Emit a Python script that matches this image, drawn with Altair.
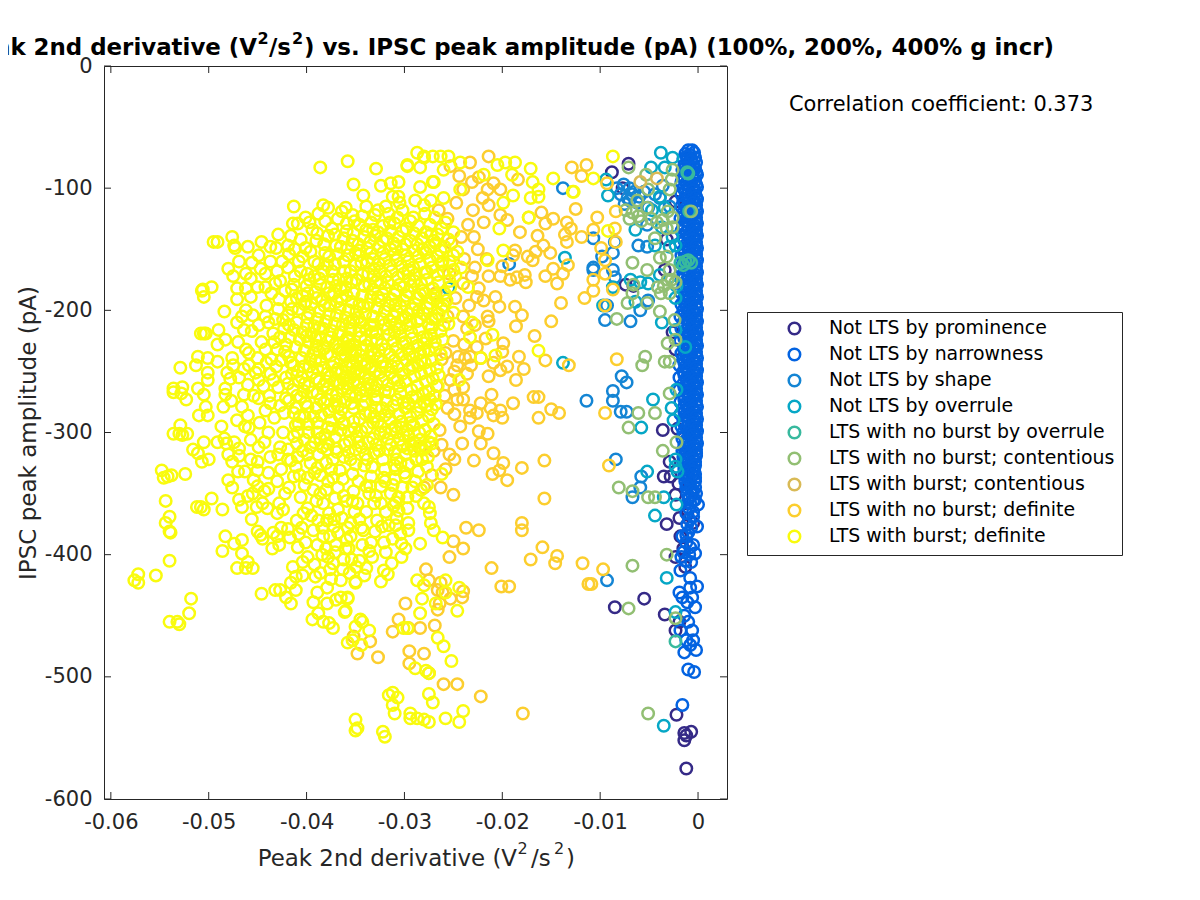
import altair as alt
import pandas as pd

# x values are in units of 1e-3 V^2/s^2, y values in pA
prominence = [(-7.1,-80),(-8.8,-87),(-7.7,-100),(-7.4,-179),(-6.6,-180),(-2.3,-111),(-3.2,-142),(-3.4,-167),(-2.6,-218),(-2.3,-232),
 (-3.6,-298),(-2.1,-297),(-2.9,-324),(-3.5,-336),(-2.8,-336),(-2,-342),(-2.3,-351),(-3.2,-375),(-1.9,-370),(-1.1,-367),(-0.5,-374),
 (-2.3,-402),(-1.5,-395),(-5.5,-436),(-8.5,-443),(-3.4,-449),(-2.3,-462),(-2.2,-531),(-1.4,-546),(-1.4,-552),(-1.2,-548),(-1.2,-575),(-0.7,-545),
 (-1.8,-385),(-1.3,-410),(-1.9,-455)]

narrowness = [(-1.0,-69),(-0.6,-69),(-1.3,-72),(-0.8,-73),(-0.4,-71),(-1.5,-76),(-1.1,-77),(-0.7,-76),(-0.3,-75),(-1.4,-81),(-0.9,-81),(-0.5,-80),(-0.2,-79),
 (-1.6,-85),(-1.2,-86),(-0.7,-85),(-0.3,-84),(-1.5,-90),(-1.0,-91),(-0.5,-90),(-0.1,-89),(-1.7,-95),(-1.2,-96),(-0.7,-95),(-0.3,-94),(-1.5,-100),(-1.0,-101),(-0.5,-100),(-0.1,-99),
 (-1.7,-105),(-1.2,-106),(-0.7,-105),(-0.3,-104),(-1.5,-110),(-0.9,-111),(-0.4,-110),(-0.1,-109),(-1.7,-115),(-1.2,-116),(-0.7,-115),(-0.2,-114),(-1.5,-120),(-1.0,-121),(-0.5,-120),(-0.1,-119),
 (-1.8,-125),(-1.3,-126),(-0.7,-125),(-0.2,-124),(-1.5,-130),(-1.0,-131),(-0.4,-130),(-0.1,-129),(-1.7,-135),(-1.2,-136),(-0.6,-135),(-0.2,-134),(-1.5,-140),(-0.9,-141),(-0.4,-140),(-0.1,-139),
 (-1.8,-145),(-1.2,-146),(-0.7,-145),(-0.2,-144),(-1.4,-150),(-0.9,-151),(-0.4,-150),(-0.1,-149),(-1.7,-155),(-1.2,-156),(-0.7,-155),(-0.2,-154),(-1.5,-160),(-1.0,-161),(-0.5,-160),(-0.1,-159),
 (-1.8,-165),(-1.3,-166),(-0.7,-165),(-0.2,-164),(-1.5,-170),(-1.0,-171),(-0.4,-170),(-0.1,-169),(-1.7,-175),(-1.2,-176),(-0.6,-175),(-0.2,-174),(-1.5,-180),(-0.9,-181),(-0.4,-180),(-0.1,-179),
 (-1.8,-185),(-1.2,-186),(-0.7,-185),(-0.2,-184),(-1.4,-190),(-0.9,-191),(-0.4,-190),(-0.1,-189),(-1.7,-195),(-1.2,-196),(-0.7,-195),(-0.2,-194),(-1.5,-200),(-1.0,-201),(-0.5,-200),(-0.1,-199),
 (-1.8,-205),(-1.3,-206),(-0.7,-205),(-0.2,-204),(-1.5,-210),(-1.0,-211),(-0.4,-210),(-0.1,-209),(-1.7,-215),(-1.2,-216),(-0.6,-215),(-0.2,-214),(-1.5,-220),(-0.9,-221),(-0.4,-220),(-0.1,-219),
 (-1.8,-225),(-1.2,-226),(-0.7,-225),(-0.2,-224),(-1.4,-230),(-0.9,-231),(-0.4,-230),(-0.1,-229),(-1.7,-235),(-1.2,-236),(-0.7,-235),(-0.2,-234),(-1.5,-240),(-1.0,-241),(-0.5,-240),(-0.1,-239),
 (-1.9,-245),(-1.3,-246),(-0.7,-245),(-0.2,-244),(-1.5,-250),(-1.0,-251),(-0.4,-250),(-0.1,-249),(-1.9,-255),(-1.2,-256),(-0.6,-255),(-0.2,-254),(-1.5,-260),(-0.9,-261),(-0.4,-260),(-0.1,-259),
 (-1.9,-265),(-1.2,-266),(-0.7,-265),(-0.2,-264),(-1.4,-270),(-0.9,-271),(-0.4,-270),(-0.1,-269),(-1.8,-275),(-1.2,-276),(-0.7,-275),(-0.2,-274),(-1.5,-280),(-1.0,-281),(-0.5,-280),(-0.1,-279),
 (-1.8,-285),(-1.3,-286),(-0.7,-285),(-0.2,-284),(-1.5,-290),(-1.0,-291),(-0.4,-290),(-0.1,-289),(-1.7,-295),(-1.2,-296),(-0.6,-295),(-0.2,-294),(-1.5,-300),(-0.9,-301),(-0.4,-300),(-0.1,-299),
 (-1.6,-305),(-1.2,-306),(-0.7,-305),(-0.2,-304),(-1.4,-310),(-0.9,-311),(-0.4,-310),(-0.1,-309),(-1.6,-315),(-1.2,-316),(-0.7,-315),(-0.2,-314),(-1.5,-320),(-1.0,-321),(-0.5,-320),(-0.2,-319),
 (-1.5,-325),(-1.1,-326),(-0.7,-325),(-0.3,-324),(-1.4,-330),(-0.9,-331),(-0.4,-330),(-1.4,-335),(-1.0,-336),(-0.6,-335),(-0.3,-334),(-1.3,-340),(-0.8,-341),(-0.3,-340),(-1.2,-345),(-0.7,-346),(-0.3,-345),
 (-1.1,-350),(-0.6,-351),(-0.2,-350),(-1.0,-355),(-0.5,-356),(0,-359),(-0.9,-362),(-0.5,-365),(-0.5,-369),(-0.1,-377),(-1.6,-385),(-1.0,-382),(-1.1,-375),(-0.5,-392),(-1.5,-398),(-0.3,-399),(-1.2,-390),
 (-0.7,-406),(-1.8,-413),(-0.8,-419),(-0.1,-426),(-1.9,-431),(-0.8,-427),(-1.6,-435),(-0.6,-435),(-1.1,-439),(-0.3,-443),(-1.3,-405),(-1.7,-402),(-0.9,-400),
 (-1,-455),(-0.6,-462),(-1.8,-462),(-1.4,-450),(-0.8,-474),(-0.5,-470),(-0.2,-478),(-1.4,-480),(-1,-494),(-0.4,-496),(-1.6,-523),(-1.2,-470),
 (-1.1,-74),(-0.7,-78),(-1.3,-83),(-0.4,-83),(-1.0,-88),(-0.2,-87),(-1.4,-93),(-0.5,-92),(-0.9,-98),(-0.2,-97),(-1.3,-103),(-0.5,-102),(-1.0,-108),(-0.2,-107),(-1.4,-113),(-0.5,-112),(-0.9,-118),(-0.2,-117),
 (-1.4,-123),(-0.5,-122),(-1.0,-128),(-0.2,-127),(-1.4,-133),(-0.5,-132),(-0.9,-138),(-0.2,-137),(-1.4,-143),(-0.5,-142),(-1.0,-148),(-0.2,-147),(-1.4,-153),(-0.5,-152),(-0.9,-158),(-0.2,-157),
 (-1.4,-163),(-0.5,-162),(-1.0,-168),(-0.2,-167),(-1.4,-173),(-0.5,-172),(-0.9,-178),(-0.2,-177),(-1.4,-183),(-0.5,-182),(-1.0,-188),(-0.2,-187),(-1.4,-193),(-0.5,-192),(-0.9,-198),(-0.2,-197),
 (-1.4,-203),(-0.5,-202),(-1.0,-208),(-0.2,-207),(-1.4,-213),(-0.5,-212),(-0.9,-218),(-0.2,-217),(-1.4,-223),(-0.5,-222),(-1.0,-228),(-0.2,-227),(-1.4,-233),(-0.5,-232),(-0.9,-238),(-0.2,-237),
 (-1.4,-243),(-0.5,-242),(-1.0,-248),(-0.2,-247),(-1.4,-253),(-0.5,-252),(-0.9,-258),(-0.2,-257),(-1.4,-263),(-0.5,-262),(-1.0,-268),(-0.2,-267),(-1.4,-273),(-0.5,-272),(-0.9,-278),(-0.2,-277),
 (-1.4,-283),(-0.5,-282),(-1.0,-288),(-0.2,-287),(-1.4,-293),(-0.5,-292),(-0.9,-298),(-0.2,-297),(-1.4,-303),(-0.5,-302),(-1.0,-308),(-0.2,-307),(-1.4,-313),(-0.5,-312),(-0.9,-318),(-0.2,-317),
 (-1.3,-323),(-0.5,-322),(-0.9,-328),(-0.3,-327),(-1.2,-333),(-0.5,-332),(-1.0,-338),(-0.3,-337),(-1.1,-343),(-0.5,-348),(-0.9,-353),(-0.3,-355),(-0.8,-358),(-1.2,-366),(-0.9,-371),(-0.7,-378),(-1.2,-384),(-0.8,-394)]

shape = [(-13.8,-100),(-7.6,-97),(-7,-100),(-6.5,-103),(-6,-107),(-7,-110),(-6.2,-112),(-7.5,-113),(-6.7,-105),(-7.9,-105),(-5.5,-103),(-7.2,-108),(-8.3,-100),
 (-10.7,-141),(-9.8,-156),(-8.7,-153),(-8.5,-144),(-10.7,-167),(-8.7,-167),(-8.5,-173),(-9.3,-196),(-9.5,-208),(-6.9,-209),(-5.9,-200),(-5.1,-192),(-5.2,-148),(-6.1,-147),(-5.2,-130),(-5.1,-116),(-3.9,-108),(-4.4,-105),
 (-10.7,-165),(-19.3,-162),(-7.8,-254),(-7.3,-259),(-8.7,-266),(-8.7,-274),(-11.4,-274),(-7.9,-283),(-7.3,-283),(-5.8,-336),(-5.9,-345),(-6.7,-353),(-8.4,-322),(-9.3,-421),(-2.9,-115),(-3.6,-98)]

overrule = [(-3.8,-71),(-2.6,-75),(-4.8,-83),(-3.4,-83),(-9.4,-93),(-9.2,-106),(-6.4,-134),(-4.4,-147),(-2.6,-140),(-2.9,-148),(-13.6,-157),(-8.7,-181),(-6.9,-175),(-5.9,-177),(-5.1,-178),(-3.9,-171),(-2.3,-190),(-2.2,-180),(-6.4,-193),(-9.7,-196),
 (-3.7,-210),(-2.3,-216),(-1.3,-230),(-13.8,-243),(-3.9,-107),(-4.7,-118),(-3.4,-116),(-3.7,-132),(-2.3,-147),(-25.5,-182),(-5.8,-296),(-4.6,-273),(-5.2,-332),(-3.5,-353),(-4.4,-368),(-3.2,-419),(-2.2,-265),(-2.3,-322),(-2.3,-328),(-2.1,-332),(-2.2,-359),(-2.3,-447),(-3.5,-540),(-2.5,-290),(-2.7,-280)]

nb_overrule = [(-1,-88),(-1.1,-87),(-1.3,-160),(-1.8,-161),(-1,-159),(-0.7,-161),(-1.5,-163),(-2.3,-471),(-0.9,-119)]

nb_contentious = [(-7.1,-83),(-5.3,-89),(-5.1,-101),(-2.6,-85),(-2.7,-93),(-2.9,-101),(-6.2,-110),(-7.4,-118),(-6.7,-120),(-6.1,-123),(-5.2,-116),(-4.2,-128),(-3.1,-119),(-2.6,-124),(-2.6,-132),(-0.7,-119),(-4.4,-141),(-6.7,-161),(-5.2,-167),(-3.9,-157),(-3.2,-156),(-2.9,-167),(-2.3,-177),(-3.1,-175),(-4.1,-181),(-6.6,-179),(-6.7,-186),(-7.2,-194),(-5.2,-194),(-3.8,-186),(-3.9,-201),(-2.4,-208),(-8.3,-207),(-3.1,-227),(-2.3,-224),(-5.4,-238),(-5.7,-245),(-3.4,-242),(-2.9,-242),
 (-4.8,-125),(-3.6,-126),(-5.8,-127),(-7,-125),(-2.9,-186),(-3.5,-180),(-2.7,-175),(-3.2,-133),
 (-6.1,-284),(-4.4,-284),(-7.1,-296),(-2.9,-268),(-3.6,-315),(-2.2,-308),(-8.1,-345),(-6.7,-348),(-5.1,-353),(-4.4,-353),(-3.2,-400),(-6.7,-409),(-7.1,-444),(-2.3,-452),(-5.1,-530)]

b_contentious = [(-5.9,-95),(-4.2,-92)]

nb_definite = [(-21.1,-269),(-24,-273),(-24.6,-273),(-22.2,-276),(-18.9,-276),(-16.8,-271),(-16.3,-271),(-15,-281),(-14.2,-284),(-16.3,-288),(-23.3,-282),(-22.6,-284),(-21.2,-280),(-20.9,-286),(-20.2,-282),(-20,-288),(-23.3,-288),(-22.4,-299),(-21.5,-301),(-24.3,-295),(-24.1,-309),(-22.2,-309),(-20.9,-317),(-22.9,-323),(-19.9,-325),(-21,-334),(-20.3,-331),(-19.5,-339),(-18,-329),(-15.7,-323),(-15.7,-354),(-25,-351),(-28,-345),(-28.4,-313),
 (-23.7,-378),(-22.4,-380),(-18,-374),(-18,-380),(-25,-389),(-24,-395),(-25.4,-402),(-15.9,-394),(-17.1,-404),(-14.4,-401),(-14.6,-407),(-11.8,-407),(-11.2,-424),(-21.1,-411),(-20.1,-426),(-19.3,-426),
 (-27.8,-412),(-27.5,-421),(-26.6,-429),(-26.3,-423),(-26.1,-431),(-25.3,-436),(-24.1,-435),(-24,-430),(-26.6,-445),(-26.4,-440),(-29.9,-440),(-30.6,-453),(-31.2,-463),(-29.6,-460),(-28.4,-460),(-26.9,-458),(-33.5,-471),(-34.8,-481),(-35.2,-467),(-32.7,-484),(-29.5,-479),(-28,-481),(-29.5,-489),(-27.5,-497),(-26,-506),(-24.6,-506),(-22.2,-516),(-17.9,-530),
 (-12.9,-83),(-11.4,-81),(-11.9,-90),(-21.4,-74),(-23.3,-79),(-12.5,-117),(-10.3,-124),(-16,-120),(-14.8,-125),(-15.6,-129),(-13.4,-128),(-13,-133),(-13.6,-138),(-11.9,-140),(-10.7,-134),(-18.2,-136),(-16.4,-139),(-15.8,-147),(-15.1,-153),(-16.6,-152),(-17.4,-156),(-16.9,-159),(-18.7,-151),(-18.9,-155),(-20,-164),(-19.2,-175),(-18.5,-173),(-17.7,-171),(-17.6,-177),(-20.2,-172),(-15.6,-172),(-14.8,-166),(-13.8,-170),(-14.4,-178),(-13.3,-163),(-10.7,-175),(-10.7,-184),(-11.6,-190),(-14,-194),(-15,-209),(-20.7,-189),(-20.3,-197),(-18.7,-197),(-18,-204),(-18.6,-213),(-21.5,-205),(-21.4,-209),(-16.7,-221),(-15.6,-241),(-13.2,-245),(-18.3,-238),(-17.8,-248),(-18.6,-257),(-21.4,-254),(-19.9,-227),(-20,-234),(-19.5,-246),(-20.2,-249),(-20.9,-243),(-22.2,-239),(-23.3,-238),(-23.8,-239),(-24.6,-245),(-23.2,-245),(-24,-263),(-25.3,-257),
 (-22.4,-91),(-20.9,-96),(-24,-101),(-21.5,-101),(-20.2,-101),(-18.4,-93),(-21.4,-114),(-23,-118),(-19.5,-126),(-20.2,-122),(-22.8,-165),(-21.4,-172),(-22.6,-189),(-26.8,-186),(-21.7,-223),(-17.3,-124),(-26.5,-118),(-23.5,-130),(-25.2,-145),(-22.5,-150),(-23.9,-158),(-25.4,-170),(-24,-178),(-22.4,-182),(-24.8,-190),(-23.4,-196),(-25.6,-205),(-23.6,-215),(-25,-225),(-22.6,-230),(-26.2,-240),(-24.9,-250),(-26.7,-262),(-25.6,-280),(-26.4,-298),(-27,-315),(-25.8,-330),
 (-8.4,-119),(-9.3,-96),(-8.5,-133),(-8.4,-144),(-9.9,-149),(-9.5,-159),(-9.5,-170),(-8.7,-183),(-9.5,-196),(-8.3,-240),(-9.5,-284),(-9.1,-327),(-9.7,-412),(-10.9,-424),(-13.4,-144),
 (-25.3,-82),(-24.4,-90),(-23.1,-95),(-22,-108),(-24.7,-112),(-25.6,-125),(-24.2,-140),(-21.9,-128),(-22.9,-140),(-21.6,-158),(-23.1,-172),(-21.9,-192),(-24,-205),(-22.8,-212),(-23.9,-228),(-25.8,-235),(-24.5,-238),(-23.6,-252),(-24.9,-265),(-25.9,-270),(-24.9,-285),(-26.2,-310),(-25.4,-318),(-24.9,-322),(-26.3,-345),(-27.2,-335)]

b_definite = [(-57.6,-421),(-57.2,-416),(-57.2,-423),(-55.4,-417),(-54,-405),(-51.8,-436),(-52,-448),(-54,-455),(-53.2,-455),(-53,-457),(-54.4,-356),(-54,-369),(-54.4,-374),(-54,-381),(-53.9,-382),(-54.8,-331),(-54.6,-337),(-54.2,-336),(-53.8,-335),(-52.4,-334),
 (-52.9,-294),(-53.6,-301),(-53,-301),(-52.7,-302),(-52.2,-301),(-51.6,-314),(-51.1,-317),(-50.5,-308),(-50.7,-324),(-50,-322),(-51.2,-361),(-50.8,-361),(-50.5,-363),(-49.7,-354),(-48.6,-363),(-48,-339),(-47,-332),(-49.1,-308),(-48.4,-305),(-48.2,-309),(-47.4,-308),(-46.9,-313),(-48,-318),(-46.9,-319),(-47.6,-324),(-45.7,-322),(-45,-324),
 (-48.3,-385),(-48.6,-397),(-47.4,-391),(-46.6,-388),(-46.6,-399),(-47.1,-411),(-46,-406),(-46.2,-411),(-45.5,-411),(-46.9,-355),(-46.6,-361),(-46,-352),(-45.6,-371),(-45.5,-350),(-45,-344),(-45.4,-339),(-44.5,-358),(-44,-362),(-45.1,-361),(-43,-366),(-42.2,-350),
 (-45,-381),(-44.7,-384),(-44.5,-387),(-43.4,-382),(-43,-385),(-42.8,-392),(-43.5,-395),(-41.7,-386),(-40.9,-394),(-39.9,-402),(-38.4,-400),(-44.6,-432),(-43.2,-429),(-42.7,-429),(-42.1,-435),(-41.6,-440),(-41.1,-429),(-41.6,-423),(-41.4,-410),(-40.4,-417),(-41.1,-418),
 (-39.4,-453),(-38.3,-455),(-37.3,-460),(-37.7,-456),(-39.3,-439),(-38.8,-448),(-37.9,-440),(-37.9,-427),(-38.9,-431),(-39.1,-418),(-38.6,-415),(-37.3,-407),(-36.5,-421),(-36.5,-435),(-35.8,-435),(-37,-437),(-36.1,-447),(-35,-422),(-34.5,-453),
 (-35,-535),(-34.8,-542),(-35,-544),(-32.2,-545),(-32,-549),(-31.2,-513),(-31.6,-515),(-30.7,-517),(-31.2,-523),(-31,-530),(-29.4,-530),(-29.4,-534),(-28.7,-534),(-28,-535),(-27.5,-537),(-25.8,-534),(-24.4,-537),(-24,-528),(-27.5,-514),(-27.1,-521),
 (-25.2,-487),(-26,-475),(-26.6,-468),(-27.5,-497),(-27.8,-495),(-28.9,-493),(-24.6,-446),(-28.4,-448),(-28.2,-436),(-26.8,-440),(-25.8,-431),(-25.8,-421),(-28.7,-421),(-28,-425),(-24.4,-427),(-29.7,-460),(-30.1,-460),
 (-34.3,-455),(-35,-459),(-33.6,-462),(-34.4,-474),(-35.8,-472),(-35.3,-470),(-36,-446),(-35.8,-436),(-35,-423),(-32.4,-422),(-31.7,-416),(-32.1,-413),(-31.3,-407),(-30.3,-402),(-30.3,-391),(-28.4,-391),(-26.2,-334),
 (-27.3,-374),(-27,-380),(-26.1,-386),(-28,-358),(-27.5,-361),(-27.4,-366),(-29.2,-345),(-29.7,-353),(-30.6,-353),(-29.6,-374),(-30.8,-370),(-31.6,-376),(-30.9,-376),(-29.6,-380),
 (-35.8,-78),(-38.6,-83),(-32.9,-84),(-35.2,-97),(-34.2,-106),(-41.3,-115),(-38.3,-114),(-37.8,-116),(-36,-116),(-32.4,-98),(-31.4,-96),(-30.6,-95),(-31.2,-107),(-30.6,-107),(-29.7,-82),(-28.7,-71),(-28,-75),(-28.4,-99),(-27.1,-95),(-28.9,-110),(-27.3,-110),
 (-29.7,-81),(-28,-74),(-27.1,-74),(-26.3,-74),(-25.5,-74),(-28.4,-83),(-26,-85),(-24.3,-79),(-19.7,-79),(-18.7,-79),(-20.5,-81),(-17.1,-84),(-21.9,-89),(-19,-89),(-16.9,-95),(-27,-95),(-24.3,-101),(-26,-108),(-16.3,-101),(-17.1,-108),(-16.3,-107),(-18.9,-106),(-19.9,-112),(-14.8,-92),(-12.8,-103),(-10.7,-92),(-17.3,-124),(-20.3,-133),(-19.9,-151),(-21.5,-159),(-21,-220),(-20.7,-237),(-16.3,-233),(-22.2,-239),(-23.3,-222),(-24.4,-257),(-23.5,-181),(-23.1,-210),(-8.7,-74),(-12.7,-103),(-9.2,-135),
 (-41.4,-129),(-40.9,-129),(-47.6,-140),(-49.5,-144),(-49.1,-144),(-47.4,-147),(-47.3,-149),(-44.6,-144),(-45.6,-161),(-48,-166),(-43.7,-148),(-42.9,-138),(-43.7,-160),(-41.9,-165),(-49.7,-181),(-50.6,-183),(-50.7,-184),(-50.5,-189),(-47.1,-182),(-47.1,-191),(-48.4,-201),(-46.2,-200),(-45,-181),(-44.2,-181),(-45.7,-189),(-45.5,-204),(-47.1,-210),(-50.5,-219),(-50.8,-219),(-50.3,-219),(-49,-216),(-49.1,-228),(-48.3,-224),(-46.4,-216),(-47,-226),(-45.9,-235),(-51.1,-238),(-51.3,-245),(-50.1,-239),(-52.9,-247),(-49.1,-242),(-47.6,-239),(-50.1,-251),(-50.1,-257),(-45,-239),(-45.2,-251),(-53.6,-264),(-52.7,-263),(-51.1,-264),(-48.3,-264),(-46,-261),(-44.9,-257),(-43.4,-257),
 (-53.6,-267),(-52.3,-273),(-52.8,-268),(-51,-286),(-50.1,-286),(-50.3,-279),(-48.5,-279),(-48.3,-269),(-50.5,-269),(-46.4,-269),(-46,-286),(-44.8,-292),(-44.2,-282),(-43.7,-276),(-45.7,-306),(-43.9,-300),(-42.7,-312),(-43.7,-320),(-41.9,-322),(-43.9,-333),(-41.3,-336),(-43,-340),(-39.9,-337),(-38.6,-335),(-39.3,-347),(-40.6,-353),(-40.3,-366),(-38.3,-358),(-36.8,-363),(-39.3,-380),(-38.3,-385),(-37.2,-377),(-35.5,-374),(-35.5,-385),(-37.8,-402),(-36.2,-404),(-34.8,-358),(-39.6,-312),(-37.9,-314),(-35.5,-322),(-40.9,-300),(-38.9,-292),(-36.2,-292),(-42.3,-284),(-39.9,-279),(-36.8,-279),(-40.9,-320),(-39.6,-325),
 (-46.4,-248),(-44.1,-243),(-43,-232),(-44.6,-226),(-46.2,-232),(-43.4,-219),(-44.9,-212),(-43.2,-207),(-44.1,-196),(-42.8,-191),(-44.2,-170),(-42.7,-176),(-41.5,-183),(-43.1,-149),(-41.8,-154),(-40.6,-142),(-39.4,-134),(-38.1,-127),(-36.8,-125),(-35.3,-122),(-33.9,-115),(-32.7,-118),(-31.6,-121),(-30.2,-118),(-29.1,-124),(-27.9,-121),
 (-40.8,-160),(-39.6,-152),(-38.2,-146),(-37.1,-138),(-35.9,-135),(-34.6,-130),(-33.4,-128),(-32.2,-131),(-31,-129),(-29.8,-133),(-28.6,-131),(-27.4,-130),(-26.2,-133),(-25,-136),(-39.9,-170),(-38.8,-162),(-37.7,-156),(-36.5,-148),(-35.3,-143),(-34.1,-140),(-33,-139),(-31.8,-141),(-30.6,-140),(-29.4,-143),(-28.2,-141),(-27,-143),(-25.9,-148),(-24.6,-152),
 (-41.2,-172),(-40,-180),(-38.7,-174),(-37.4,-168),(-36.2,-160),(-35,-153),(-33.8,-149),(-32.6,-148),(-31.4,-150),(-30.2,-150),(-29,-151),(-27.8,-153),(-26.6,-156),(-25.4,-160),(-24.2,-165),(-41.6,-193),(-40.4,-188),(-39.1,-185),(-37.9,-181),(-36.7,-175),(-35.5,-168),(-34.4,-161),(-33.2,-158),(-32,-158),(-30.8,-159),(-29.6,-160),(-28.4,-162),(-27.2,-165),(-26,-168),(-24.8,-172),
 (-41.9,-204),(-40.8,-199),(-39.5,-195),(-38.4,-191),(-37.2,-186),(-36,-181),(-34.9,-175),(-33.7,-170),(-32.5,-168),(-31.3,-168),(-30.1,-170),(-28.9,-171),(-27.7,-175),(-26.5,-177),(-25.3,-181),(-42.3,-215),(-41,-210),(-39.9,-206),(-38.7,-201),(-37.6,-196),(-36.4,-191),(-35.2,-186),(-34.1,-180),(-32.9,-177),(-31.7,-177),(-30.5,-179),(-29.3,-180),(-28.1,-184),(-26.9,-188),(-25.7,-192),
 (-41.7,-222),(-40.4,-218),(-39.2,-213),(-38,-209),(-36.9,-204),(-35.7,-200),(-34.6,-195),(-33.4,-189),(-32.2,-187),(-31,-187),(-29.8,-188),(-28.6,-190),(-27.4,-194),(-26.2,-198),(-25,-202),(-42.2,-234),(-41.1,-230),(-39.8,-226),(-38.6,-222),(-37.4,-217),(-36.3,-212),(-35.2,-208),(-34,-203),(-32.8,-198),(-31.6,-196),(-30.4,-197),(-29.2,-199),(-28,-203),(-26.8,-207),(-25.5,-211),
 (-41.6,-243),(-40.5,-239),(-39.3,-235),(-38.2,-231),(-37,-227),(-35.8,-222),(-34.6,-217),(-33.5,-212),(-32.3,-207),(-31.1,-205),(-29.9,-206),(-28.7,-209),(-27.5,-212),(-26.3,-217),(-42.1,-255),(-40.9,-250),(-39.7,-246),(-38.6,-241),(-37.5,-237),(-36.3,-232),(-35.2,-228),(-34,-224),(-32.9,-218),(-31.7,-215),(-30.5,-215),(-29.3,-218),(-28.1,-222),(-26.9,-226),
 (-41.4,-265),(-40.2,-260),(-39,-256),(-37.9,-252),(-36.8,-248),(-35.6,-242),(-34.5,-237),(-33.4,-233),(-32.3,-228),(-31.1,-225),(-29.9,-226),(-28.7,-229),(-27.5,-233),(-26.3,-236),(-41.8,-274),(-40.6,-271),(-39.4,-267),(-38.3,-262),(-37.1,-258),(-36,-254),(-34.9,-248),(-33.8,-244),(-32.7,-239),(-31.5,-236),(-30.3,-236),(-29.1,-238),(-27.9,-243),(-26.7,-247),
 (-38.6,-273),(-37.4,-269),(-36.3,-264),(-35.2,-259),(-34.1,-255),(-33,-250),(-31.9,-246),(-30.7,-246),(-29.5,-248),(-28.3,-252),(-27.1,-256),(-40.2,-287),(-37.7,-283),(-35.6,-270),(-34.5,-265),(-33.4,-261),(-32.2,-257),(-31.1,-256),(-29.9,-258),(-28.7,-262),(-27.5,-266),
 (-41.1,-294),(-37.8,-296),(-36.6,-287),(-35.2,-280),(-34,-275),(-32.8,-271),(-31.6,-267),(-30.4,-268),(-29.2,-271),(-28,-275),(-26.8,-277),(-39.8,-300),(-38.6,-305),(-37.1,-304),(-35.7,-299),(-34.6,-289),(-33.5,-284),(-32.3,-280),(-31.1,-278),(-29.9,-280),(-28.7,-284),(-27.5,-287),
 (-41,-309),(-38.8,-318),(-37.3,-322),(-36.1,-310),(-34.9,-303),(-33.8,-296),(-32.7,-291),(-31.5,-289),(-30.3,-291),(-29.1,-294),(-27.9,-298),(-36.6,-331),(-35.3,-334),(-34.4,-312),(-33.2,-305),(-32,-300),(-30.8,-300),(-29.6,-303),(-28.4,-306),(-27.5,-308),(-33.8,-322),(-32.6,-315),(-31.4,-310),(-30.2,-311),(-29,-315),(-28.2,-322),(-33.4,-336),(-32,-330),(-30.8,-322),(-29.6,-326),(-28.6,-332),(-36.8,-345),(-35.2,-348),(-33.6,-350),(-32.4,-344),(-31,-338),(-29.9,-336),(-38,-347),(-37,-392),(-33.9,-365),(-32.4,-358),(-34.2,-380),(-32.8,-372),(-33.4,-390),(-36,-395),(-34.6,-405),(-33.3,-402)]

b_definite_dense = [(-40.1,-124),(-38.8,-121),(-37.4,-133),(-35.9,-129),(-34.3,-123),(-33,-122),(-31.9,-115),(-30.7,-124),(-29.4,-127),(-28,-114),(-26.9,-124),(-25.8,-128),
 (-41.6,-139),(-40.1,-149),(-39,-143),(-37.8,-139),(-36.2,-141),(-35.2,-137),(-33.9,-134),(-32.7,-136),(-31.4,-135),(-30.2,-135),(-29,-137),(-27.8,-136),(-26.6,-138),(-25.5,-142),
 (-43,-168),(-41.9,-147),(-40.6,-168),(-39.2,-160),(-38.1,-153),(-37,-147),(-35.8,-149),(-34.7,-146),(-33.5,-144),(-32.2,-143),(-31.1,-145),(-29.9,-146),(-28.7,-146),(-27.4,-148),(-26.3,-151),(-25,-155),
 (-42.2,-184),(-41.3,-179),(-39.7,-175),(-38.3,-168),(-37.1,-162),(-35.8,-155),(-34.6,-155),(-33.4,-153),(-32.2,-153),(-31,-154),(-29.8,-155),(-28.6,-156),(-27.4,-159),(-26.2,-162),(-25,-167),
 (-43.6,-186),(-41,-190),(-39.9,-186),(-38.6,-179),(-37.3,-175),(-36.1,-168),(-35,-163),(-33.8,-160),(-32.6,-162),(-31.5,-163),(-30.3,-164),(-29.1,-165),(-27.9,-169),(-26.6,-171),(-25.4,-176),
 (-43.9,-210),(-41.5,-199),(-40.2,-195),(-39,-190),(-37.7,-186),(-36.5,-183),(-35.4,-177),(-34.3,-171),(-33.1,-172),(-31.9,-172),(-30.7,-173),(-29.5,-175),(-28.3,-178),(-27.1,-182),(-25.9,-186),
 (-42.7,-222),(-41.3,-216),(-40,-212),(-38.9,-207),(-37.7,-203),(-36.6,-198),(-35.4,-193),(-34.3,-188),(-33.2,-183),(-32,-182),(-30.8,-184),(-29.6,-185),(-28.4,-187),(-27.2,-190),(-26,-196),
 (-43.6,-240),(-42.1,-228),(-40.7,-224),(-39.5,-219),(-38.3,-215),(-37.1,-211),(-36,-206),(-34.9,-201),(-33.7,-195),(-32.5,-192),(-31.3,-191),(-30.1,-192),(-28.9,-195),(-27.7,-198),(-26.5,-203),
 (-43.1,-246),(-41.8,-238),(-40.2,-233),(-39,-229),(-37.8,-225),(-36.7,-220),(-35.5,-215),(-34.4,-210),(-33.2,-205),(-32,-201),(-30.8,-201),(-29.6,-203),(-28.4,-207),(-27.2,-207),(-26,-212),
 (-42.9,-263),(-41.5,-252),(-40.3,-246),(-39.1,-241),(-37.9,-236),(-36.7,-232),(-35.6,-229),(-34.5,-222),(-33.3,-218),(-32.1,-212),(-30.9,-211),(-29.7,-212),(-28.5,-216),(-27.3,-220),(-26.1,-224),
 (-41.9,-260),(-40.5,-255),(-39.4,-251),(-38.3,-247),(-37.2,-243),(-36,-238),(-35,-233),(-33.9,-229),(-32.8,-224),(-31.6,-220),(-30.4,-221),(-29.2,-223),(-28,-227),(-26.8,-231),(-35.4,-236),(-34.9,-241),(-35.8,-231),(-36.2,-226),(-34.3,-232),(-33.6,-238),
 (-42.7,-278),(-41,-270),(-39.8,-262),(-38.7,-258),(-37.6,-254),(-36.4,-250),(-35.3,-246),(-34.2,-241),(-33.1,-236),(-32,-232),(-30.8,-231),(-29.6,-232),(-28.4,-235),(-27.2,-241),(-35.9,-246),(-34.7,-252),(-33.5,-248),
 (-41.3,-284),(-40.1,-276),(-38.9,-268),(-37.8,-264),(-36.6,-260),(-35.5,-255),(-34.4,-250),(-33.3,-246),(-32.2,-242),(-31,-241),(-29.8,-241),(-28.6,-245),(-27.4,-249),
 (-42.4,-300),(-40.7,-287),(-39,-280),(-37.9,-273),(-36.9,-268),(-35.8,-264),(-34.7,-259),(-33.6,-255),(-32.5,-251),(-31.4,-251),(-30.2,-252),(-29,-254),(-27.8,-258),(-26.6,-262),
 (-41.3,-303),(-39.8,-293),(-38.5,-286),(-37.2,-279),(-36.1,-275),(-35,-270),(-33.9,-265),(-32.8,-261),(-31.7,-261),(-30.5,-262),(-29.3,-265),(-28.1,-268),(-26.9,-270),
 (-41.9,-314),(-40.2,-306),(-38.9,-300),(-37.5,-290),(-36.4,-281),(-35.4,-276),(-34.3,-270),(-33.1,-266),(-32,-266),(-30.8,-273),(-29.6,-276),(-28.4,-279),(-27.2,-281),
 (-42.6,-330),(-40.4,-315),(-39.2,-308),(-37.8,-309),(-36.5,-298),(-35.2,-291),(-34,-285),(-32.9,-280),(-31.8,-274),(-30.6,-285),(-29.4,-287),(-28.2,-290),(-27,-293),
 (-41.1,-328),(-39.9,-318),(-38.4,-312),(-37,-313),(-35.6,-307),(-34.4,-299),(-33.2,-292),(-32,-286),(-30.9,-295),(-29.7,-298),(-28.5,-300),(-27.3,-303),
 (-40.2,-343),(-38.9,-329),(-37.5,-330),(-36.2,-320),(-35,-314),(-33.7,-308),(-32.5,-301),(-31.3,-298),(-30.1,-302),(-29,-308),(-27.8,-312),
 (-41.8,-345),(-39,-356),(-37.8,-340),(-36.3,-338),(-35,-326),(-34,-318),(-32.9,-310),(-31.7,-305),(-30.5,-306),(-29.3,-310),(-28.1,-314),
 (-42.4,-363),(-41,-372),(-39.9,-362),(-38.6,-350),(-37.1,-354),(-35.9,-356),(-34.7,-340),(-33.3,-328),(-32.2,-322),(-31,-316),(-29.9,-318),(-28.8,-322),(-27.7,-328),
 (-41.9,-379),(-40.5,-378),(-38.8,-372),(-37.7,-366),(-36.4,-370),(-35.1,-365),(-33.5,-344),(-32.1,-337),(-30.9,-330),(-30.2,-345),(-31.4,-350),(-28.9,-340),(-27.7,-343),
 (-40.1,-390),(-38.9,-392),(-37.6,-385),(-36.8,-382),(-35.8,-378),(-34.6,-371),(-33.1,-358),(-31.9,-365),(-31.1,-360),(-30.6,-364),(-29.7,-362),(-28.8,-352),
 (-39.2,-408),(-38,-395),(-37.1,-398),(-35.7,-395),(-34.3,-392),(-33,-381),(-32.1,-390),(-31.2,-387),(-29.9,-395),(-36.3,-412),(-34.9,-410),(-33.9,-411),(-35.6,-415),(-37.5,-420),
 (-46.2,-170),(-47.5,-172),(-46.9,-160),(-44.9,-155),(-46,-148),(-45.7,-174),(-44.7,-166),(-46.2,-182),(-44.2,-205),(-46.6,-205),(-45.6,-217),(-44.2,-232),(-47.5,-245),(-45.9,-245),(-44.9,-248),(-46.9,-255),(-44.4,-262),(-45.4,-270),(-47.7,-274),(-44.9,-272),(-45.9,-296),(-47.1,-290),(-48.7,-295),(-44.9,-312),(-46.3,-332),(-47.6,-345),(-44.3,-348),(-42.8,-358)]

b_definite_loose = [(-39.7,-128),(-36.4,-119),(-33.2,-134),(-30.5,-112),(-38.9,-137),(-35.1,-127),(-31.5,-128),(-27.3,-138),(-41.2,-150),(-37.9,-163),(-34.6,-151),(-30.9,-148),(-28.1,-150),(-40.4,-156),(-36.8,-154),(-33.1,-166),(-29.6,-167),(-26.8,-145),
 (-42.5,-160),(-39.2,-172),(-35.9,-174),(-32.4,-177),(-29,-176),(-26.1,-160),(-43.2,-178),(-40.1,-193),(-36.9,-193),(-33.6,-179),(-30.1,-181),(-27.7,-169),(-42.9,-199),(-39.7,-202),(-37,-180),(-34.2,-197),(-30.9,-195),(-27.9,-186),
 (-42.4,-208),(-38.2,-196),(-35.6,-210),(-32.7,-189),(-29.4,-209),(-26.6,-193),(-41.8,-212),(-38.7,-214),(-35.9,-188),(-33.1,-212),(-30.2,-207),(-27.2,-214),(-43.3,-226),(-40,-221),(-37.5,-222),(-34.7,-206),(-31.5,-209),(-28.6,-201),
 (-42.6,-241),(-39.1,-223),(-36.5,-218),(-33.9,-216),(-31,-218),(-28,-233),(-41.3,-245),(-38.7,-234),(-36.1,-236),(-33.4,-225),(-30.2,-227),(-27.7,-223),(-43.7,-252),(-40.8,-258),(-37.4,-246),(-35.7,-225),(-32.6,-233),(-29.5,-236),
 (-42.1,-272),(-39.6,-240),(-37,-251),(-34.1,-245),(-31.3,-246),(-28.3,-241),(-40.3,-266),(-38,-258),(-35.1,-252),(-32.3,-246),(-29.2,-245),(-26.5,-253),(-43.3,-288),(-41.1,-280),(-38.9,-248),(-36.2,-257),(-33.7,-260),(-30.7,-257),
 (-40.8,-293),(-38.2,-276),(-35.9,-260),(-33,-273),(-30.1,-275),(-27.4,-273),(-42.9,-318),(-39.3,-287),(-37,-274),(-34.3,-278),(-31.6,-283),(-28.8,-271),(-41.6,-323),(-38.1,-302),(-36.3,-293),(-33.1,-287),(-30.3,-296),(-27.7,-278),
 (-40.7,-335),(-37.4,-297),(-35.1,-297),(-32.4,-295),(-29.4,-292),(-27.2,-309),(-39.2,-333),(-36.9,-316),(-34.7,-308),(-31.7,-314),(-29.7,-313),(-30.4,-325),(-38,-325),(-35.7,-316),(-33.1,-317),(-31,-327),(-28.5,-311),(-27.6,-320),
 (-37.3,-337),(-34.1,-327),(-32,-340),(-30,-333),(-39.5,-368),(-36.2,-352),(-33.9,-344),(-31.2,-343),(-28.3,-347),(-37.9,-372),(-35.3,-356),(-32.9,-352),(-30.9,-357),(-40.8,-383),(-37.2,-371),(-34.4,-378),(-32.3,-377),(-30.4,-383),
 (-42.6,-378),(-38.4,-378),(-35.9,-388),(-33.6,-397),(-31.9,-398),(-40.4,-406),(-37.6,-412),(-35.4,-404),(-34.1,-417),(-43.9,-346),(-45,-331),(-47.8,-256),(-43.8,-270),(-46.6,-279),(-48.1,-251),(-46.3,-295),(-44.3,-308)]

names = ["Not LTS by prominence", "Not LTS by narrowness", "Not LTS by shape", "Not LTS by overrule",
         "LTS with no burst by overrule", "LTS with no burst; contentious", "LTS with burst; contentious",
         "LTS with no burst; definite", "LTS with burst; definite"]
colors = ["#352a87", "#0363e1", "#1485d4", "#06a7c6", "#38b99e", "#92bf73", "#d9ba56", "#fcce2e", "#f9fb0e"]
series = [prominence, narrowness, shape, overrule, nb_overrule, nb_contentious, b_contentious, nb_definite, b_definite + b_definite_dense + b_definite_loose]

rows = [{"x": p[0] / 1000, "y": p[1], "k": n} for n, s in zip(names, series) for p in s]
df = pd.DataFrame(rows)

W, H = 623, 733
TICK = 7
x_ticks = [-0.06, -0.05, -0.04, -0.03, -0.02, -0.01, 0]
y_ticks = [0, -100, -200, -300, -400, -500, -600]
FONT = "DejaVu Sans"
INK = "#262626"

xs = alt.Scale(domain=[-0.0607, 0.00296], nice=False, zero=False)
ys = alt.Scale(domain=[-600, 0], nice=False, zero=False)

points = alt.Chart(df).mark_point(filled=False, size=132, strokeWidth=2.5, opacity=1).encode(
    x=alt.X("x:Q", scale=xs, title=None,
            axis=alt.Axis(values=x_ticks, labelExpr="''+datum.value", grid=False, ticks=False, domain=False,
                          labelFontSize=21, labelColor=INK, labelPadding=12, labelFont=FONT)),
    y=alt.Y("y:Q", scale=ys, title="IPSC peak amplitude (pA)",
            axis=alt.Axis(values=y_ticks, labelExpr="''+datum.value", grid=False, ticks=False, domain=False,
                          labelFontSize=21, labelColor=INK, labelPadding=12, titleFontSize=23, titleColor=INK,
                          titleFontWeight="normal", titlePadding=4, labelFont=FONT, titleFont=FONT)),
    color=alt.Color("k:N", scale=alt.Scale(domain=names, range=colors), sort=names,
                    legend=alt.Legend(orient="none", legendX=643, legendY=246, title=None, strokeColor=INK,
                                      fillColor="white", padding=7, labelFontSize=18.9, labelFont=FONT, labelColor="black",
                                      labelLimit=500, labelOffset=25, symbolSize=132, symbolStrokeWidth=2.5,
                                      symbolType="circle", rowPadding=3, symbolOffset=31)),
)

xt = pd.DataFrame({"v": x_ticks})
yt = pd.DataFrame({"v": y_ticks})
tb = alt.Chart(xt).mark_rule(color=INK, strokeWidth=1).encode(x=alt.X("v:Q", scale=xs), y=alt.value(H), y2=alt.value(H - TICK))
tt = alt.Chart(xt).mark_rule(color=INK, strokeWidth=1).encode(x=alt.X("v:Q", scale=xs), y=alt.value(0), y2=alt.value(TICK))
tl = alt.Chart(yt).mark_rule(color=INK, strokeWidth=1).encode(y=alt.Y("v:Q", scale=ys), x=alt.value(0), x2=alt.value(TICK))
tr = alt.Chart(yt).mark_rule(color=INK, strokeWidth=1).encode(y=alt.Y("v:Q", scale=ys), x=alt.value(W), x2=alt.value(W - TICK))


def label(text, x, y, size, align="left", weight="normal", color=INK):
    return alt.Chart(pd.DataFrame({"t": [text]})).mark_text(
        align=align, baseline="alphabetic", fontSize=size, font=FONT, fontWeight=weight, color=color
    ).encode(text="t:N", x=alt.value(x), y=alt.value(y))


T, S = 22.9, 16
pieces = [
    label("Correlation coefficient: 0.373", 685, 45, 20.9, color="black"),
    # title, with real superscripts
    label("Peak 2nd derivative (V", 153, -11, T, "right", "bold", "black"),
    label("2", 153.5, -22, S, "left", "bold", "black"),
    label("/s", 165, -11, T, "left", "bold", "black"),
    label("2", 188, -22, S, "left", "bold", "black"),
    label(") vs. IPSC peak amplitude (pA) (100%, 200%, 400% g incr)", 200, -11, T, "left", "bold", "black"),
    # x axis title, with real superscripts
    label("Peak 2nd derivative (V", 413, 800, T, "right"),
    label("2", 413.5, 788, S),
    label("/s", 427, 800, T),
    label("2", 450, 788, S),
    label(")", 462, 800, T),
]

chart = alt.layer(points, tb, tt, tl, tr, *pieces).properties(
    width=W, height=H, background="white",
    autosize=alt.AutoSizeParams(type="none"),
    padding={"left": 96, "top": 58, "right": 465, "bottom": 95},
).configure_view(stroke=INK, strokeWidth=1)

chart.save("out.html", embed_options={"renderer": "svg", "actions": False})
